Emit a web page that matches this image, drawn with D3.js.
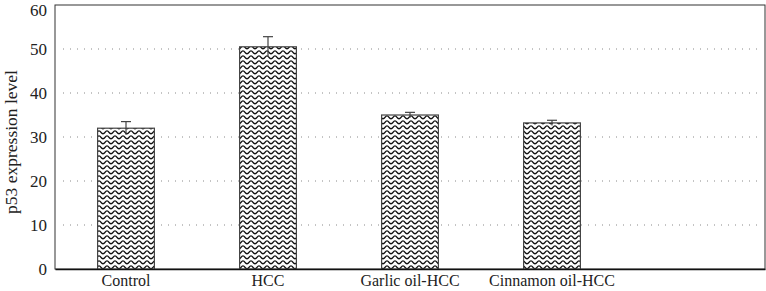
<!DOCTYPE html>
<html>
<head>
<meta charset="utf-8">
<script src="https://cdn.jsdelivr.net/npm/d3@7"></script>
<style>
  body { margin: 0; background: #fff; }
  text { font-family: "Liberation Serif", "DejaVu Serif", serif; fill: #222; }
</style>
</head>
<body>
<div id="chart"></div>
<script>
// chart data
var categories = ["Control", "HCC", "Garlic oil-HCC", "Cinnamon oil-HCC"];
var values = [32.0, 50.5, 35.0, 33.2];
var errors = [1.5, 2.3, 0.6, 0.6];
var yTicks = [0, 10, 20, 30, 40, 50, 60];

var data = categories.map(function (c, i) {
    return { name: c, value: values[i], err: errors[i] };
});

var margin = { top: 5, right: 1, bottom: 22, left: 55 },
    width = 766 - margin.left - margin.right,
    height = 291 - margin.top - margin.bottom;

var svg = d3.select('#chart').append('svg')
    .attr('width', 766)
    .attr('height', 291);

// wavy fill pattern
var defs = svg.append('defs');
var pat = defs.append('pattern')
    .attr('id', 'wave')
    .attr('patternUnits', 'userSpaceOnUse')
    .attr('width', 8)
    .attr('height', 5);
pat.append('rect').attr('width', 8).attr('height', 5).attr('fill', '#fff');
pat.append('path')
    .attr('d', 'M0,3.8 C2,3.8 2,0.9 4,0.9 C6,0.9 6,3.8 8,3.8')
    .attr('fill', 'none')
    .attr('stroke', '#111')
    .attr('stroke-width', 1.4);

// extra empty slot on the right, as in the original
var xScale = d3.scaleBand()
    .domain(categories.concat(["__empty"]))
    .range([0, width])
    .paddingInner(0.6)
    .paddingOuter(0.3);

var yScale = d3.scaleLinear()
    .domain([0, 60])
    .range([height, 0]);

var g = svg.append('g')
    .attr('transform', 'translate(' + margin.left + ',' + margin.top + ')');

// dotted grid lines
g.selectAll('.grid')
    .data(yTicks.filter(function (t) { return t > 0 && t < 60; }))
    .enter().append('line')
    .attr('class', 'grid')
    .attr('x1', 8)
    .attr('x2', width - 2)
    .attr('y1', function (d) { return yScale(d); })
    .attr('y2', function (d) { return yScale(d); })
    .attr('stroke', '#888')
    .attr('stroke-width', 1)
    .attr('stroke-dasharray', '1,6');

// frame
g.append('rect')
    .attr('x', 0).attr('y', 0)
    .attr('width', width).attr('height', height)
    .attr('fill', 'none')
    .attr('stroke', '#333')
    .attr('stroke-width', 1);

// bars
g.selectAll('.bar')
    .data(data)
    .enter().append('rect')
    .attr('class', 'bar')
    .attr('x', function (d) { return xScale(d.name); })
    .attr('width', xScale.bandwidth())
    .attr('y', function (d) { return yScale(d.value); })
    .attr('height', function (d) { return height - yScale(d.value); })
    .attr('fill', 'url(#wave)')
    .attr('stroke', '#444')
    .attr('stroke-width', 1.2);

// error bars
var eb = g.selectAll('.err')
    .data(data)
    .enter().append('g')
    .attr('class', 'err')
    .attr('stroke', '#444')
    .attr('stroke-width', 1.2);
eb.append('line')
    .attr('x1', function (d) { return xScale(d.name) + xScale.bandwidth() / 2; })
    .attr('x2', function (d) { return xScale(d.name) + xScale.bandwidth() / 2; })
    .attr('y1', function (d) { return yScale(d.value - d.err); })
    .attr('y2', function (d) { return yScale(d.value + d.err); });
eb.append('line')
    .attr('x1', function (d) { return xScale(d.name) + xScale.bandwidth() / 2 - 5; })
    .attr('x2', function (d) { return xScale(d.name) + xScale.bandwidth() / 2 + 5; })
    .attr('y1', function (d) { return yScale(d.value + d.err); })
    .attr('y2', function (d) { return yScale(d.value + d.err); });

// axes
var yAxis = d3.axisLeft(yScale).tickValues(yTicks).tickSize(0).tickPadding(8);
var yg = g.append('g').call(yAxis);
yg.select('.domain').remove();
yg.selectAll('text').style('font-size', '17px').attr('fill', '#222');
// keep top label inside the picture
yg.selectAll('.tick').filter(function (d) { return d === 60; })
    .select('text').attr('dy', '0.6em');

var xAxis = d3.axisBottom(xScale).tickValues(categories).tickSize(0).tickPadding(6);
var xg = g.append('g')
    .attr('transform', 'translate(0,' + height + ')')
    .call(xAxis);
xg.select('.domain').attr('stroke', '#111').attr('stroke-width', 1.3);
xg.selectAll('text').style('font-size', '16px').attr('fill', '#222');

// y label
svg.append('text')
    .attr('transform', 'translate(17,' + (margin.top + height / 2 + 5) + ') rotate(-90)')
    .attr('text-anchor', 'middle')
    .style('font-size', '17.5px')
    .text('p53 expression level');
</script>
</body>
</html>
